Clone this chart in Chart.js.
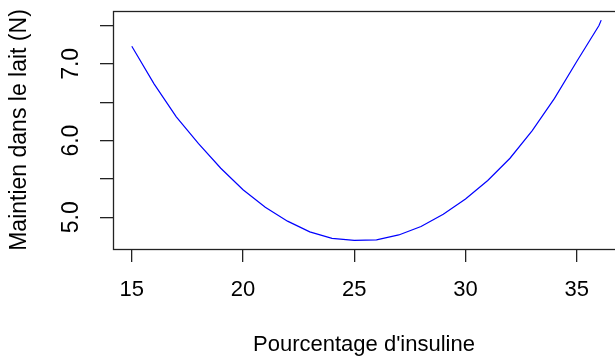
<!DOCTYPE html>
<html>
<head>
<meta charset="utf-8">
<script src="https://cdn.jsdelivr.net/npm/chart.js@4"></script>
<style>
  html, body { margin: 0; padding: 0; background: #fff; }
  #plot { display: block; }
</style>
</head>
<body>
<canvas id="plot" width="615" height="358"></canvas>
<script>
// insulin percentage vs. hold in milk, fitted curve
const pctInsuline = [15, 16, 17, 18, 19, 20, 21, 22, 23, 24, 25, 26, 27, 28, 29, 30, 31, 32, 33, 34, 35, 36, 36.1];
const maintien    = [7.23, 6.74, 6.31, 5.96, 5.64, 5.36, 5.13, 4.95, 4.81, 4.725, 4.70, 4.705, 4.77, 4.88, 5.04, 5.24, 5.48, 5.77, 6.13, 6.55, 7.03, 7.50, 7.57];

const xTicks = [15, 20, 25, 30, 35];
const yTicks = [5, 5.5, 6, 6.5, 7, 7.5];
const xLabel = "Pourcentage d'insuline";
const yLabel = 'Maintien dans le lait (N)';

const ink = '#222';
const family = "'Liberation Sans', Arial, sans-serif";
const xFont = { family, size: 22 };
const yFont = { family, size: 23 };

// box round the plot region; right side falls past the canvas edge
const frame = {
  id: 'frame',
  afterDraw(chart) {
    const { ctx, chartArea: a } = chart;
    ctx.save();
    ctx.strokeStyle = ink;
    ctx.lineWidth = 1.3;
    ctx.strokeRect(Math.round(a.left) + 0.5, Math.round(a.top) + 0.5,
      a.right - a.left + 20, Math.round(a.bottom - a.top));
    ctx.restore();
  }
};

new Chart(document.getElementById('plot'), {
  type: 'line',
  data: {
    datasets: [{
      data: pctInsuline.map((x, i) => ({ x, y: maintien[i] })),
      borderColor: '#0000ff',
      borderWidth: 1.2,
      pointRadius: 0,
      tension: 0,
      fill: false
    }]
  },
  options: {
    responsive: false,
    animation: false,
    layout: { padding: { top: 11, right: 0, left: 0, bottom: 0 } },
    plugins: { legend: { display: false }, tooltip: { enabled: false } },
    scales: {
      x: {
        type: 'linear',
        min: 14.155,
        max: 36.72,
        afterBuildTicks: s => { s.ticks = xTicks.map(v => ({ value: v })); },
        afterFit: s => { s.height = 109; s.paddingLeft = 0; s.paddingRight = 0; },
        border: { display: false },
        grid: { drawOnChartArea: false, drawTicks: true, tickLength: 13, tickColor: ink, lineWidth: 1.3 },
        ticks: { color: '#000', font: xFont, padding: 15, maxRotation: 0, autoSkip: false },
        title: { display: true, text: xLabel, color: '#000', font: xFont, padding: { top: 0, bottom: 0 } }
      },
      y: {
        min: 4.587,
        max: 7.689,
        afterBuildTicks: s => { s.ticks = yTicks.map(v => ({ value: v })); },
        afterFit: s => { s.width = 113; s.paddingTop = 0; s.paddingBottom = 0; },
        border: { display: false },
        grid: { drawOnChartArea: false, drawTicks: true, tickLength: 13, tickColor: ink, lineWidth: 1.3 },
        ticks: {
          color: '#000', font: yFont, padding: 12, minRotation: 90, maxRotation: 90,
          crossAlign: 'center', autoSkip: false,
          callback: v => Number.isInteger(v) ? v.toFixed(1) : ''
        },
        title: { display: true, text: yLabel, color: '#000', font: yFont, padding: { top: 6, bottom: 0 } }
      }
    }
  },
  plugins: [frame]
});
</script>
</body>
</html>
